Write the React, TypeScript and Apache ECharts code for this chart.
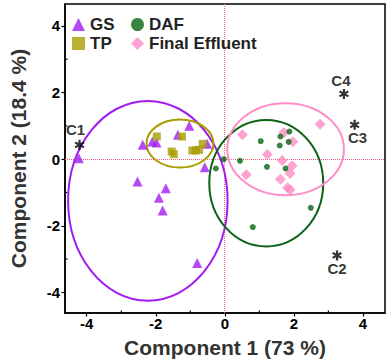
import React, { useEffect, useRef } from "react";
import * as echarts from "echarts";

// ---- data ----
const gsX = [-4.23, -2.38, -2.1, -1.98, -1.36, -1.03, -0.51, -0.58, -2.53, -1.71, -1.91, -1.8, -0.8];
const gsY = [0.03, 0.43, 0.53, 0.5, 0.73, 1.0, 0.46, -0.24, -0.67, -0.87, -1.16, -1.54, -3.12];

const tpX = [-1.97, -1.24, -1.54, -1.48, -0.94, -0.84, -0.75, -0.64];
const tpY = [0.68, 0.68, 0.23, 0.15, 0.26, 0.26, 0.28, 0.46];

const dafX = [1.04, 1.61, 1.87, 1.59, 1.85, 0.44, -0.03, -0.26, 1.22, 1.76, 2.49, 0.81];
const dafY = [0.54, 0.68, 0.83, 0.41, 0.52, -0.05, 0.0, -0.28, -0.23, -0.28, -1.46, -2.04];

const feX = [0.51, 1.71, 1.97, 2.76, 1.23, 1.66, 1.95, 1.89, 0.62, 1.61, 1.82, 1.89];
const feY = [0.73, 0.8, 0.52, 1.05, 0.14, -0.04, -0.2, -0.43, -0.47, -0.6, -0.86, -0.92];

const loadNames = ["C1", "C2", "C3", "C4"];
const loadX = [-4.21, 3.25, 3.76, 3.45];
const loadY = [0.43, -2.89, 1.03, 1.96];

// ellipses: center x, center y, semi-axis x, semi-axis y (GS, TP, DAF, Final Effluent)
const ellCX = [-2.23, -1.3, 1.2, 1.76];
const ellCY = [-1.25, 0.47, -0.72, 0.3];
const ellRX = [2.31, 0.97, 1.65, 1.69];
const ellRY = [3.0, 0.72, 1.9, 1.38];

// reference lines through the origin
const refX = [0];
const refY = [0];

const xTicks = [-4, -2, 0, 2, 4];
const xMinor = [-3, -1, 1, 3];
const yTicks = [-4, -2, 0, 2, 4];
const yMinor = [-3, -1, 1, 3];

// ---- styles ----
const purple = "#A11CF2";
const olive = "#A89E00";
const green = "#0A6412";
const pink = "#FF8CC8";
const ellColors = [purple, olive, green, pink];
const labelOffsets = [[-4, -15], [0, 13], [3, 13], [-3, -13]];

const asterisk =
  "path://M-2.2,-10 L2.2,-10 L2.2,10 L-2.2,10 Z " +
  "M7.56,6.905 L-9.76,-3.095 L-7.56,-6.905 L9.76,3.095 Z " +
  "M-9.76,3.095 L7.56,-6.905 L9.76,-3.095 L-7.56,6.905 Z";

const zip = (a: number[], b: number[]) => a.map((v, i) => [v, b[i]]);

export default function App() {
  const ref = useRef<HTMLDivElement>(null);
  useEffect(() => {
    document.body.style.margin = "0";
    const chart = echarts.init(ref.current!, null, { renderer: "svg" });
    const font = "Liberation Sans, Arial, sans-serif";
    const xMin = -4.63, xMax = 4.64, yMin = -4.62, yMax = 4.66;
    const legendText = { fontSize: 17, fontWeight: "bold", color: "#222", fontFamily: font, lineHeight: 17 };
    const snap = (v: number) => Math.round(v - 0.5) + 0.5;
    chart.setOption({
      animation: false,
      textStyle: { fontFamily: font },
      grid: { left: 55, right: 2, top: 4, bottom: 51, show: true, borderColor: "#000", borderWidth: 1.5 },
      legend: [
        {
          data: ["GS", "TP"], orient: "vertical", left: 67, top: 11,
          itemWidth: 13, itemHeight: 13, itemGap: 2, textStyle: legendText,
        },
        {
          data: ["DAF", "Final Effluent"], orient: "vertical", left: 126, top: 11,
          itemWidth: 13, itemHeight: 13, itemGap: 2, textStyle: legendText,
        },
      ],
      xAxis: {
        type: "value", min: xMin, max: xMax,
        name: "Component 1 (73 %)", nameLocation: "middle", nameGap: 24,
        nameTextStyle: { fontSize: 21, fontWeight: "bold", color: "#333", fontFamily: font },
        axisLine: { show: true, onZero: false, lineStyle: { color: "#000", width: 1.5 } },
        axisTick: { show: true, customValues: xTicks, length: 3.5, lineStyle: { color: "#000", width: 1.2 } },
        axisLabel: { customValues: xTicks, fontSize: 15, fontWeight: "bold", color: "#000", margin: 3 },
        splitLine: { show: false },
      },
      yAxis: {
        type: "value", min: yMin, max: yMax,
        name: "Component 2 (18.4 %)", nameLocation: "middle", nameGap: 36,
        nameTextStyle: { fontSize: 21, fontWeight: "bold", color: "#333", fontFamily: font },
        axisLine: { show: true, onZero: false, lineStyle: { color: "#000", width: 1.5 } },
        axisTick: { show: true, customValues: yTicks, length: 3.5, lineStyle: { color: "#000", width: 1.2 } },
        axisLabel: { customValues: yTicks, fontSize: 15, fontWeight: "bold", color: "#000", margin: 5 },
        splitLine: { show: false },
      },
      series: [
        {
          type: "custom", name: "zeroLines", z: 1, silent: true, clip: false,
          data: refX.map((v, i) => [v, refY[i]]),
          encode: { x: 0, y: 1 },
          renderItem: (params: any, api: any) => {
            const p = api.coord([api.value(0), api.value(1)]);
            const cs = params.coordSys;
            const px = snap(p[0]);
            const py = snap(p[1]);
            const st = { stroke: "#FF5C7C", lineWidth: 1, lineDash: [1, 1] };
            const tk = { stroke: "#000", lineWidth: 1.2 };
            const bottom = cs.y + cs.height;
            const minorX = xMinor.map((v) => {
              const q = api.coord([v, 0]);
              return { type: "line", shape: { x1: q[0], y1: bottom, x2: q[0], y2: bottom - 2.5 }, style: tk };
            });
            const minorY = yMinor.map((v) => {
              const q = api.coord([0, v]);
              return { type: "line", shape: { x1: cs.x, y1: q[1], x2: cs.x + 2.5, y2: q[1] }, style: tk };
            });
            return {
              type: "group",
              children: [
                { type: "line", shape: { x1: px, y1: Math.round(cs.y), x2: px, y2: Math.round(bottom) }, style: st },
                { type: "line", shape: { x1: Math.round(cs.x), y1: py, x2: Math.round(cs.x + cs.width), y2: py }, style: st },
                ...minorX,
                ...minorY,
              ],
            };
          },
        },
        {
          type: "custom", name: "ellipses", z: 2, silent: true,
          data: ellCX.map((v, i) => [v, ellCY[i], ellRX[i], ellRY[i]]),
          encode: { x: 0, y: 1 },
          renderItem: (params: any, api: any) => {
            const c = api.coord([api.value(0), api.value(1)]);
            const s = api.size([api.value(2), api.value(3)]);
            return {
              type: "ellipse",
              shape: { cx: c[0], cy: c[1], rx: s[0], ry: s[1] },
              style: { fill: "none", stroke: ellColors[params.dataIndex], lineWidth: 2 },
            };
          },
        },
        { type: "scatter", name: "GS", symbol: "triangle", symbolSize: 10, itemStyle: { color: purple }, data: zip(gsX, gsY), z: 3 },
        { type: "scatter", name: "TP", symbol: "rect", symbolSize: 8, itemStyle: { color: olive }, data: zip(tpX, tpY), z: 3 },
        { type: "scatter", name: "DAF", symbol: "circle", symbolSize: 6, itemStyle: { color: green }, data: zip(dafX, dafY), z: 4 },
        { type: "scatter", name: "Final Effluent", symbol: "diamond", symbolSize: 11, itemStyle: { color: pink }, data: zip(feX, feY), z: 3 },
        {
          type: "scatter", name: "loadings", symbol: asterisk, symbolSize: 10, itemStyle: { color: "#000" }, z: 5,
          data: loadNames.map((n, i) => ({
            name: n, value: [loadX[i], loadY[i]],
            label: { show: true, formatter: n, position: "inside", offset: labelOffsets[i], fontSize: 15, fontWeight: "bold", color: "#000", fontFamily: font },
          })),
        },
      ],
    });
    return () => chart.dispose();
  }, []);
  return <div ref={ref} style={{ width: 387, height: 364 }} />;
}
